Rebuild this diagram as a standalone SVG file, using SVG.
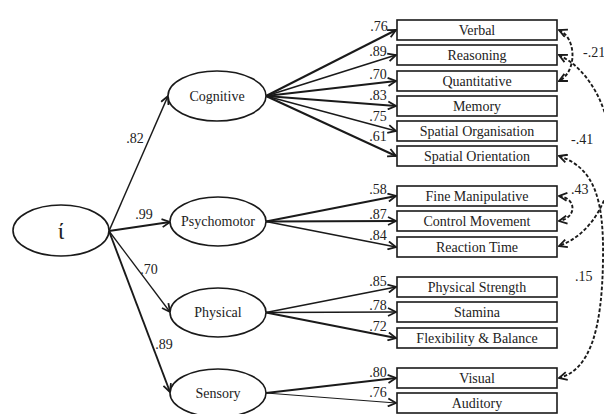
<svg xmlns="http://www.w3.org/2000/svg" width="604" height="414" viewBox="0 0 604 414" font-family="'Liberation Serif', 'DejaVu Serif', serif">
<style>
text{font-family:'Liberation Serif','DejaVu Serif',serif;font-size:14px;fill:#222}
.lbl{text-anchor:middle}
.node ellipse,.node rect{fill:#fff;stroke:#1a1a1a;stroke-width:1.6}
.node text{text-anchor:middle}
.e{fill:none;stroke:#1a1a1a;marker-end:url(#arr)}
.cov{fill:none;stroke:#1a1a1a;stroke-width:1.9;stroke-dasharray:3.5 2;marker-start:url(#arr);marker-end:url(#arr)}
</style>
<defs>
<marker id="arr" markerUnits="userSpaceOnUse" markerWidth="10" markerHeight="10" viewBox="0 0 10 10" refX="9" refY="5" orient="auto-start-reverse">
<path d="M1,1 L9,5 L1,9" fill="none" stroke="#1a1a1a" stroke-width="1.8" stroke-dasharray="none"/>
</marker>
</defs>
<g id="connectors">
<path class="e" stroke-width="1.5" d="M109,231 L168,96"/>
<path class="e" stroke-width="2" d="M109,231 L170,222"/>
<path class="e" stroke-width="1.3" d="M109,231 L170,312"/>
<path class="e" stroke-width="1.9" d="M109,231 L170,392"/>
<path class="e" stroke-width="2" d="M266,96 L396,30"/>
<path class="e" stroke-width="1.6" d="M266,96 L396,55"/>
<path class="e" stroke-width="2" d="M266,96 L396,81"/>
<path class="e" stroke-width="2" d="M266,96 L396,106"/>
<path class="e" stroke-width="1.4" d="M266,96 L396,131"/>
<path class="e" stroke-width="2" d="M266,96 L396,156"/>
<path class="e" stroke-width="2" d="M266,221.5 L396,196"/>
<path class="e" stroke-width="2" d="M266,221.5 L396,221"/>
<path class="e" stroke-width="1.6" d="M266,221.5 L396,247"/>
<path class="e" stroke-width="1.7" d="M266,312.5 L396,287"/>
<path class="e" stroke-width="1.7" d="M266,312.5 L396,312"/>
<path class="e" stroke-width="2" d="M266,312.5 L396,338"/>
<path class="e" stroke-width="1.8" d="M266,393 L396,378"/>
<path class="e" stroke-width="1.1" d="M266,393 L396,403"/>
<path class="cov" d="M559,30 C577,38 577,72 559,81"/>
<path class="cov" d="M559,55 C590,70 612,110 612,160 C612,200 590,235 559,246"/>
<path class="cov" d="M559,156 C595,168 604,200 603,260 C602,330 590,370 559,378"/>
<path class="cov" d="M559,196 C577,198 577,218 559,221"/>
<text x="135" y="143" class="lbl">.82</text>
<text x="144" y="219" class="lbl">.99</text>
<text x="149" y="274" class="lbl">.70</text>
<text x="164" y="349" class="lbl">.89</text>
<text x="379" y="31" class="lbl">.76</text>
<text x="378" y="56" class="lbl">.89</text>
<text x="378" y="79" class="lbl">.70</text>
<text x="378" y="100" class="lbl">.83</text>
<text x="378" y="121" class="lbl">.75</text>
<text x="378" y="141" class="lbl">.61</text>
<text x="378" y="194" class="lbl">.58</text>
<text x="378" y="219" class="lbl">.87</text>
<text x="378" y="240" class="lbl">.84</text>
<text x="378" y="286" class="lbl">.85</text>
<text x="378" y="310" class="lbl">.78</text>
<text x="378" y="331" class="lbl">.72</text>
<text x="378" y="377" class="lbl">.80</text>
<text x="378" y="397" class="lbl">.76</text>
<text x="583" y="57">-.21</text>
<text x="571" y="144">-.41</text>
<text x="571" y="194">.43</text>
<text x="575" y="281">.15</text>
</g>
<g id="iota" class="node"><ellipse cx="61" cy="230.5" rx="48" ry="25.5"/><text x="61" y="239" style="font-size:24px">ί</text></g>
<g id="cognitive" class="node"><ellipse cx="217" cy="96" rx="49" ry="25"/><text x="217" y="100.5">Cognitive</text></g>
<g id="psychomotor" class="node"><ellipse cx="218" cy="221.5" rx="48" ry="24.5"/><text x="218" y="226">Psychomotor</text></g>
<g id="physical" class="node"><ellipse cx="218" cy="312.5" rx="48" ry="24.5"/><text x="218" y="317">Physical</text></g>
<g id="sensory" class="node"><ellipse cx="218" cy="393" rx="48" ry="24"/><text x="218" y="397.5">Sensory</text></g>
<g id="verbal" class="node"><rect x="397" y="20" width="160" height="20"/><text x="477" y="35">Verbal</text></g>
<g id="reasoning" class="node"><rect x="397" y="45" width="160" height="20"/><text x="477" y="60">Reasoning</text></g>
<g id="quantitative" class="node"><rect x="397" y="71" width="160" height="20"/><text x="477" y="86">Quantitative</text></g>
<g id="memory" class="node"><rect x="397" y="96" width="160" height="20"/><text x="477" y="111">Memory</text></g>
<g id="spatial-organisation" class="node"><rect x="397" y="121" width="160" height="20"/><text x="477" y="136">Spatial Organisation</text></g>
<g id="spatial-orientation" class="node"><rect x="397" y="146" width="160" height="20"/><text x="477" y="161">Spatial Orientation</text></g>
<g id="fine-manipulative" class="node"><rect x="397" y="186" width="160" height="20"/><text x="477" y="201">Fine Manipulative</text></g>
<g id="control-movement" class="node"><rect x="397" y="211" width="160" height="20"/><text x="477" y="226">Control Movement</text></g>
<g id="reaction-time" class="node"><rect x="397" y="237" width="160" height="20"/><text x="477" y="252">Reaction Time</text></g>
<g id="physical-strength" class="node"><rect x="397" y="277" width="160" height="20"/><text x="477" y="292">Physical Strength</text></g>
<g id="stamina" class="node"><rect x="397" y="302" width="160" height="20"/><text x="477" y="317">Stamina</text></g>
<g id="flexibility-balance" class="node"><rect x="397" y="328" width="160" height="20"/><text x="477" y="343">Flexibility &amp; Balance</text></g>
<g id="visual" class="node"><rect x="397" y="368" width="160" height="20"/><text x="477" y="383">Visual</text></g>
<g id="auditory" class="node"><rect x="397" y="393" width="160" height="20"/><text x="477" y="408">Auditory</text></g>
</svg>
